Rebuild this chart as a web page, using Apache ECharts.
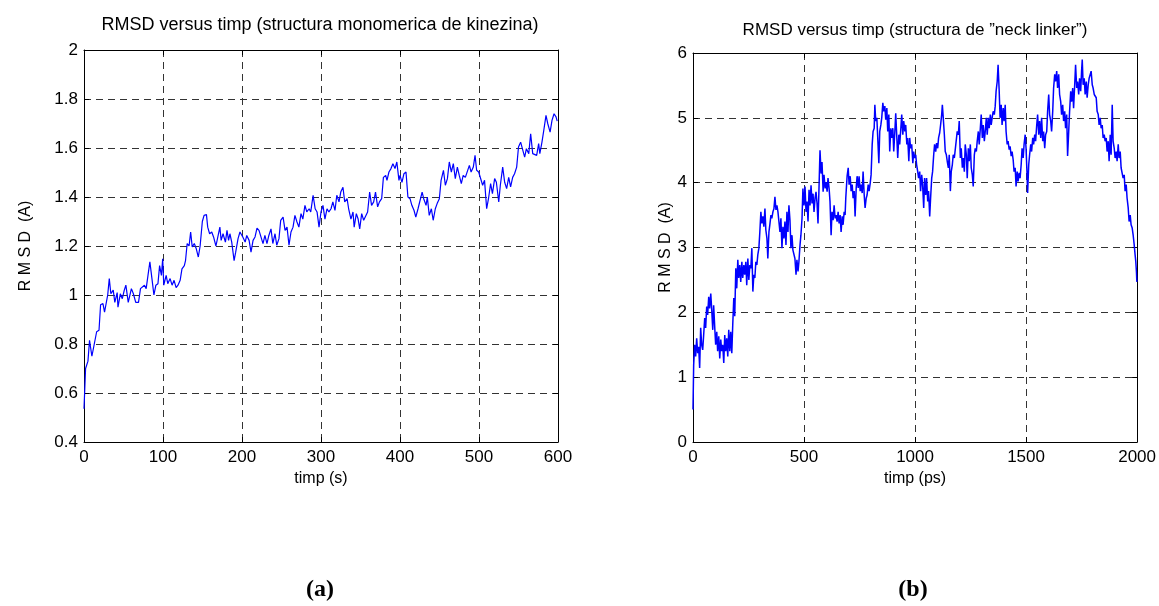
<!DOCTYPE html>
<html>
<head>
<meta charset="utf-8">
<script src="https://cdn.jsdelivr.net/npm/echarts@6/dist/echarts.min.js"></script>
<style>
html,body{margin:0;padding:0;background:#fff;}
#c{width:1159px;height:606px;}
</style>
</head>
<body>
<div id="c"></div>
<script>
// ---- Data ----
const leftX = [0,2,5,7,10,13,16,19,21,24,26,30,32,34,37,39,42,43,46,48.5,51,53,56,58,60,62.5,65.5,69,71.5,74,76.5,78.7,81,83.4,86,88.5,91,93.6,95.7,98,99.6,101,104,106,109,111.5,114,116.6,119,121.7,124,127,128.5,130.6,133,135,137,139.6,142,144.7,147,149.8,152,155,156.6,159,161.7,164,167,169,172,173.6,176,179,181,183,184.7,187,190,192,195,197.4,201,204,206,209,211.4,214,216.5,219,221.5,224,226.6,229,231.6,234,236.7,239,241.8,244,246.8,249,252,254.5,257,259.5,262,264.6,267,269.6,272,274.7,277,279.7,282,285,287,290,292.6,295,297.5,300,302.5,305,307.6,310,312.7,315,317.7,320,322.8,325,327.8,330,333,335,337.9,340.5,342,344.7,347,349,351.5,354,356.5,359,361.6,364,366.7,369,371.7,374,376.8,379,381.9,383.5,386,388.6,391,393.7,396,398.7,400,402.5,405,407.6,410,412.7,415,417.7,420,422.8,425,428,430,433,434.6,437,439.7,442,444.7,447,449.8,452,455,457.4,460,462.4,465,467.5,470,472.6,475,477.6,480,482.7,485,487.8,490,492.8,495,497,499.6,502,504.6,507,509.7,512,514.7,517,519.8,522,525,527,530,532.5,535,537.6,540,542.6,545,547.7,550,552.7,555,557.8,560,563,565.4,568,570.5,573,575.5,577,579.7,582,584.8,587,590,592.4,595,597.5,599];
const leftY = [0.536,0.70,0.73,0.815,0.75,0.80,0.85,0.856,0.96,0.965,0.93,1.0,1.067,1.005,1.02,0.97,1.01,0.95,1.005,0.985,1.02,1.04,0.97,0.965,1.026,1.005,0.97,0.97,1.026,1.03,1.04,1.026,1.08,1.135,1.067,1.0,1.04,1.046,1.12,1.08,1.148,1.04,1.08,1.046,1.067,1.04,1.06,1.03,1.04,1.06,1.107,1.12,1.14,1.21,1.20,1.257,1.196,1.21,1.19,1.155,1.20,1.30,1.325,1.328,1.277,1.25,1.257,1.237,1.20,1.20,1.277,1.223,1.25,1.216,1.264,1.223,1.25,1.216,1.14,1.175,1.23,1.257,1.237,1.216,1.243,1.223,1.175,1.223,1.237,1.273,1.264,1.27,1.21,1.243,1.21,1.243,1.27,1.21,1.25,1.203,1.23,1.305,1.318,1.264,1.277,1.203,1.257,1.277,1.325,1.298,1.277,1.332,1.31,1.366,1.339,1.352,1.339,1.407,1.352,1.339,1.277,1.339,1.366,1.31,1.352,1.339,1.352,1.38,1.345,1.407,1.38,1.42,1.44,1.38,1.393,1.352,1.31,1.339,1.277,1.332,1.31,1.27,1.332,1.305,1.31,1.339,1.42,1.366,1.38,1.42,1.36,1.38,1.393,1.48,1.488,1.468,1.502,1.516,1.536,1.516,1.543,1.468,1.488,1.46,1.495,1.502,1.40,1.393,1.366,1.346,1.318,1.352,1.346,1.42,1.393,1.366,1.40,1.325,1.352,1.305,1.352,1.373,1.393,1.468,1.509,1.448,1.475,1.543,1.502,1.536,1.475,1.522,1.488,1.455,1.488,1.48,1.488,1.529,1.502,1.522,1.57,1.509,1.502,1.495,1.448,1.468,1.352,1.393,1.455,1.414,1.475,1.46,1.38,1.448,1.522,1.46,1.434,1.48,1.441,1.48,1.495,1.522,1.604,1.624,1.631,1.563,1.597,1.577,1.658,1.577,1.584,1.57,1.618,1.577,1.624,1.672,1.733,1.70,1.665,1.713,1.74,1.727,1.71];

const rightX = [0,3,7.5,12,16.6,21,25.6,30,34.6,39,43.7,48,52.7,57,61.7,66,70.8,75,80,84,89,93,98,102,107,111,116,120.5,125,129.5,134,138.5,143,147.6,152,156.6,161,165.7,170,174.7,179,183.7,188,192.8,197,201.8,206,210.8,215,220,224,229,233,238,242,247,251.5,256,260.5,265,269.6,274,278.6,283,287.6,292,296.7,301,305.7,310,314.7,319,324,328,333,337,342,346,351,355,360,364.5,369,373.6,378,382.6,387,391.6,396,400.6,405,409.6,414,418.7,423,427.7,432,436.7,441,445.8,450,455,459,464,468,473,477,482,486,491,495,500,504.5,509,513.6,518,522.6,527,531.6,536,540.6,545,549.7,554,558.7,563,567.8,572,576.8,581,586,590,595,599,604,608,613,617,622,626,631,635.5,640,644.6,649,653.6,658,662.6,667,671.7,676,680.7,685,688,694,699,703,708,712,717,721,726,730,735,739,744,748,753,757,762,766,771,775,780,784,789,793,798,802,807,811,816,819,823,828,832,837,841,846,850,855,859,864,868,873,877,882,886,891,895,900,904,909,913,918,922,927,931,936,940,945,949,954,958,963,967,972,976,980,985,990,994,998,1003,1007,1012,1016,1021,1025,1030,1034,1039,1043,1048,1052,1057,1061,1066,1070,1075,1079,1084,1088,1093,1097,1102,1106,1111,1115,1120,1123,1127,1132,1136,1141,1145,1150,1154,1159,1163,1168,1172,1177,1181,1186,1190,1195,1199,1204,1208,1213,1217,1222,1226,1231,1235,1240,1244,1249,1253,1258,1262,1267,1271,1276,1280,1285,1289,1294,1298,1303,1307,1312,1316,1321,1325,1330,1334,1339,1343,1348,1352,1357,1361,1365,1370,1374,1379,1383,1388,1392,1397,1401,1406,1410,1415,1419,1424,1428,1433,1437,1442,1446,1451,1455,1460,1464,1469,1473,1478,1482,1487,1491,1496,1500,1504,1507,1512,1516,1521,1525,1530,1534,1539,1543,1548,1552,1557,1561,1566,1570,1575,1579,1584,1588,1593,1597,1602,1606,1611,1615,1620,1624,1629,1633,1638,1642,1647,1651,1656,1660,1665,1669,1674,1678,1683,1687,1692,1696,1701,1705,1710,1714,1719,1723,1728,1732,1737,1741,1746,1750,1753,1757,1762,1766,1771,1775,1780,1784,1789,1793,1798,1802,1807,1811,1816,1820,1825,1829,1834,1838,1843,1847,1852,1856,1861,1865,1870,1874,1879,1883,1888,1892,1897,1901,1906,1910,1915,1919,1924,1928,1933,1937,1942,1946,1951,1955,1960,1964,1969,1973,1978,1982,1987,1991,1994,1997,1999];
const rightY = [0.50,1.19,1.50,1.32,1.60,1.37,1.47,1.14,1.76,1.50,1.42,1.65,1.91,1.76,2.09,1.96,2.24,2.06,2.29,2.06,1.73,2.11,1.76,1.50,1.70,1.40,1.63,1.29,1.58,1.40,1.50,1.22,1.65,1.40,1.60,1.32,1.73,1.40,1.70,1.37,1.81,2.22,1.94,2.68,2.37,2.81,2.53,2.73,2.47,2.78,2.53,2.73,2.58,2.78,2.42,2.83,2.50,2.73,2.68,2.99,2.32,2.58,2.53,2.78,2.73,2.89,2.99,3.24,3.55,3.37,3.48,3.32,3.60,3.27,3.14,2.83,3.24,3.35,3.50,3.45,3.55,3.60,3.78,3.58,3.65,3.55,3.40,3.24,3.45,2.99,3.32,3.14,3.40,3.04,3.55,3.24,3.65,3.42,2.99,3.19,2.96,2.99,2.83,2.58,2.81,2.63,2.78,3.04,3.19,3.45,3.91,3.65,3.94,3.55,3.71,3.40,3.89,3.65,3.96,3.68,3.83,3.55,3.76,3.86,3.68,3.37,3.96,4.50,4.14,4.32,3.86,4.12,3.91,4.01,3.86,4.07,3.91,3.71,3.19,3.55,3.42,3.65,3.45,3.50,3.40,3.55,3.37,3.50,3.24,3.48,3.35,3.55,3.50,3.76,4.10,4.23,3.97,4.10,3.87,3.97,3.76,3.87,3.48,3.92,4.10,3.92,4.10,3.87,3.97,3.84,4.17,3.81,3.61,3.76,3.81,3.97,3.87,3.99,4.12,4.59,4.79,4.84,5.20,4.95,5.00,4.69,4.30,4.79,4.89,5.00,5.23,5.10,5.18,4.97,5.15,4.79,5.05,4.48,4.84,4.69,4.84,4.48,4.79,5.07,4.69,4.38,4.74,4.59,4.84,5.05,4.74,4.95,4.79,4.89,4.59,4.69,4.33,4.69,4.53,4.59,4.30,4.48,4.38,4.43,4.28,4.17,4.07,4.17,3.87,4.12,3.97,3.61,4.07,3.81,4.07,3.71,3.87,3.48,3.76,4.07,4.17,4.43,4.59,4.48,4.61,4.53,4.69,4.77,4.89,5.05,5.20,5.00,4.74,4.48,4.43,4.33,4.23,4.43,3.87,4.17,4.28,4.43,4.38,4.51,4.53,4.79,4.74,4.95,4.38,4.53,4.23,4.38,4.17,4.59,4.43,4.07,4.53,4.33,4.59,4.23,4.12,3.94,4.43,4.53,4.48,4.64,4.79,4.59,4.84,5.05,4.69,4.89,4.64,4.79,5.00,4.74,5.00,4.84,5.05,4.89,5.02,5.10,5.05,5.18,5.41,5.56,5.82,5.41,5.00,5.20,4.89,5.15,4.95,5.20,4.79,4.59,4.64,4.51,4.56,4.41,4.48,4.35,4.17,4.23,3.94,4.17,4.02,4.15,4.07,4.28,4.53,4.38,4.59,4.74,4.53,4.17,3.84,4.28,4.43,4.59,4.48,4.69,4.59,4.74,4.64,4.89,5.05,4.74,4.95,4.69,5.00,4.64,4.79,4.53,4.74,4.79,5.10,5.36,5.05,4.95,4.79,5.10,5.46,5.67,5.56,5.72,5.46,5.67,5.36,5.25,5.05,5.20,4.95,5.10,4.84,5.05,4.41,4.79,5.10,5.41,5.25,5.46,5.15,5.51,5.82,5.46,5.56,5.36,5.61,5.41,5.72,5.90,5.51,5.61,5.36,5.56,5.31,5.51,5.61,5.67,5.72,5.51,5.46,5.36,5.36,5.31,5.10,5.05,4.89,5.00,4.84,4.89,4.69,4.74,4.64,4.69,4.48,4.64,4.33,4.74,4.43,5.20,4.64,4.53,4.38,4.48,4.33,4.59,4.38,4.48,4.23,4.20,4.07,4.12,3.87,3.97,3.76,3.61,3.40,3.50,3.35,3.30,3.20,3.04,2.89,2.79,2.63,2.47];

const titleA = 'RMSD versus timp (structura monomerica de kinezina)';
const titleB = 'RMSD versus timp (structura de \u201Dneck linker\u201D)';
const yName = 'R M S D  (A)';
const xNameA = 'timp (s)';
const xNameB = 'timp (ps)';
const panelA = '(a)';
const panelB = '(b)';

const zip = (xs, ys) => xs.map((x, i) => [x, ys[i]]);
const FONT = "'Liberation Sans', Arial, sans-serif";
const gridLine = {show: true, lineStyle: {color: '#333', type: [7, 5], width: 1}};
const plainNum = v => String(v);

function mainX(grid, max, interval, name) {
  return {
    type: 'value', gridIndex: grid, min: 0, max: max, interval: interval,
    name: name, nameLocation: 'middle', nameGap: 25,
    nameTextStyle: {fontFamily: FONT, fontSize: 16, color: '#000'},
    axisLine: {show: true, onZero: false, lineStyle: {color: '#000', width: 1}},
    axisTick: {show: true, inside: true, length: 5, lineStyle: {color: '#000'}},
    axisLabel: {fontFamily: FONT, fontSize: 17, color: '#000', margin: 7, formatter: plainNum},
    splitLine: gridLine
  };
}
function mainY(grid, min, max, interval, gap) {
  return {
    type: 'value', gridIndex: grid, min: min, max: max, interval: interval,
    name: yName, nameLocation: 'middle', nameGap: gap, nameRotate: 90,
    nameTextStyle: {fontFamily: FONT, fontSize: 16, color: '#000'},
    axisLine: {show: true, onZero: false, lineStyle: {color: '#000', width: 1}},
    axisTick: {show: true, inside: true, length: 5, lineStyle: {color: '#000'}},
    axisLabel: {fontFamily: FONT, fontSize: 17, color: '#000', margin: 6},
    splitLine: gridLine
  };
}
function mirrorX(grid, max, interval) {
  return {type: 'value', gridIndex: grid, position: 'top', min: 0, max: max, interval: interval,
    axisLine: {show: true, onZero: false, lineStyle: {color: '#000'}},
    axisTick: {show: true, inside: true, length: 5, lineStyle: {color: '#000'}},
    axisLabel: {show: false}, splitLine: {show: false}};
}
function mirrorY(grid, min, max, interval) {
  return {type: 'value', gridIndex: grid, position: 'right', min: min, max: max, interval: interval,
    axisLine: {show: true, onZero: false, lineStyle: {color: '#000'}},
    axisTick: {show: true, inside: true, length: 5, lineStyle: {color: '#000'}},
    axisLabel: {show: false}, splitLine: {show: false}};
}

const chart = echarts.init(document.getElementById('c'), null, {renderer: 'canvas'});
chart.setOption({
  animation: false,
  backgroundColor: '#fff',
  grid: [
    {left: 84, top: 50, width: 474, height: 392, show: false},
    {left: 693, top: 53, width: 445, height: 389, show: false}
  ],
  xAxis: [mainX(0, 600, 100, xNameA), mainX(1, 2000, 500, xNameB), mirrorX(0, 600, 100), mirrorX(1, 2000, 500)],
  yAxis: [mainY(0, 0.4, 2, 0.2, 50), mainY(1, 0, 6, 1, 15), mirrorY(0, 0.4, 2, 0.2), mirrorY(1, 0, 6, 1)],
  series: [
    {type: 'line', xAxisIndex: 0, yAxisIndex: 0, data: zip(leftX, leftY), showSymbol: false, symbol: 'none',
     lineStyle: {color: '#0000ff', width: 1.2}, z: 5},
    {type: 'line', xAxisIndex: 1, yAxisIndex: 1, data: zip(rightX, rightY), showSymbol: false, symbol: 'none',
     lineStyle: {color: '#0000ff', width: 1.5}, z: 5}
  ],
  graphic: [
    {type: 'text', x: 320, y: 25, style: {text: titleA, fontFamily: FONT, fontSize: 18, fill: '#000', textAlign: 'center', textVerticalAlign: 'middle'}},
    {type: 'text', x: 915, y: 30, style: {text: titleB, fontFamily: FONT, fontSize: 17, fill: '#000', textAlign: 'center', textVerticalAlign: 'middle'}},
    {type: 'text', x: 320, y: 590, style: {text: panelA, fontFamily: "'Liberation Serif', 'Times New Roman', serif", fontWeight: 'bold', fontSize: 24, fill: '#000', textAlign: 'center', textVerticalAlign: 'middle'}},
    {type: 'text', x: 913, y: 590, style: {text: panelB, fontFamily: "'Liberation Serif', 'Times New Roman', serif", fontWeight: 'bold', fontSize: 24, fill: '#000', textAlign: 'center', textVerticalAlign: 'middle'}}
  ]
});
</script>
</body>
</html>
